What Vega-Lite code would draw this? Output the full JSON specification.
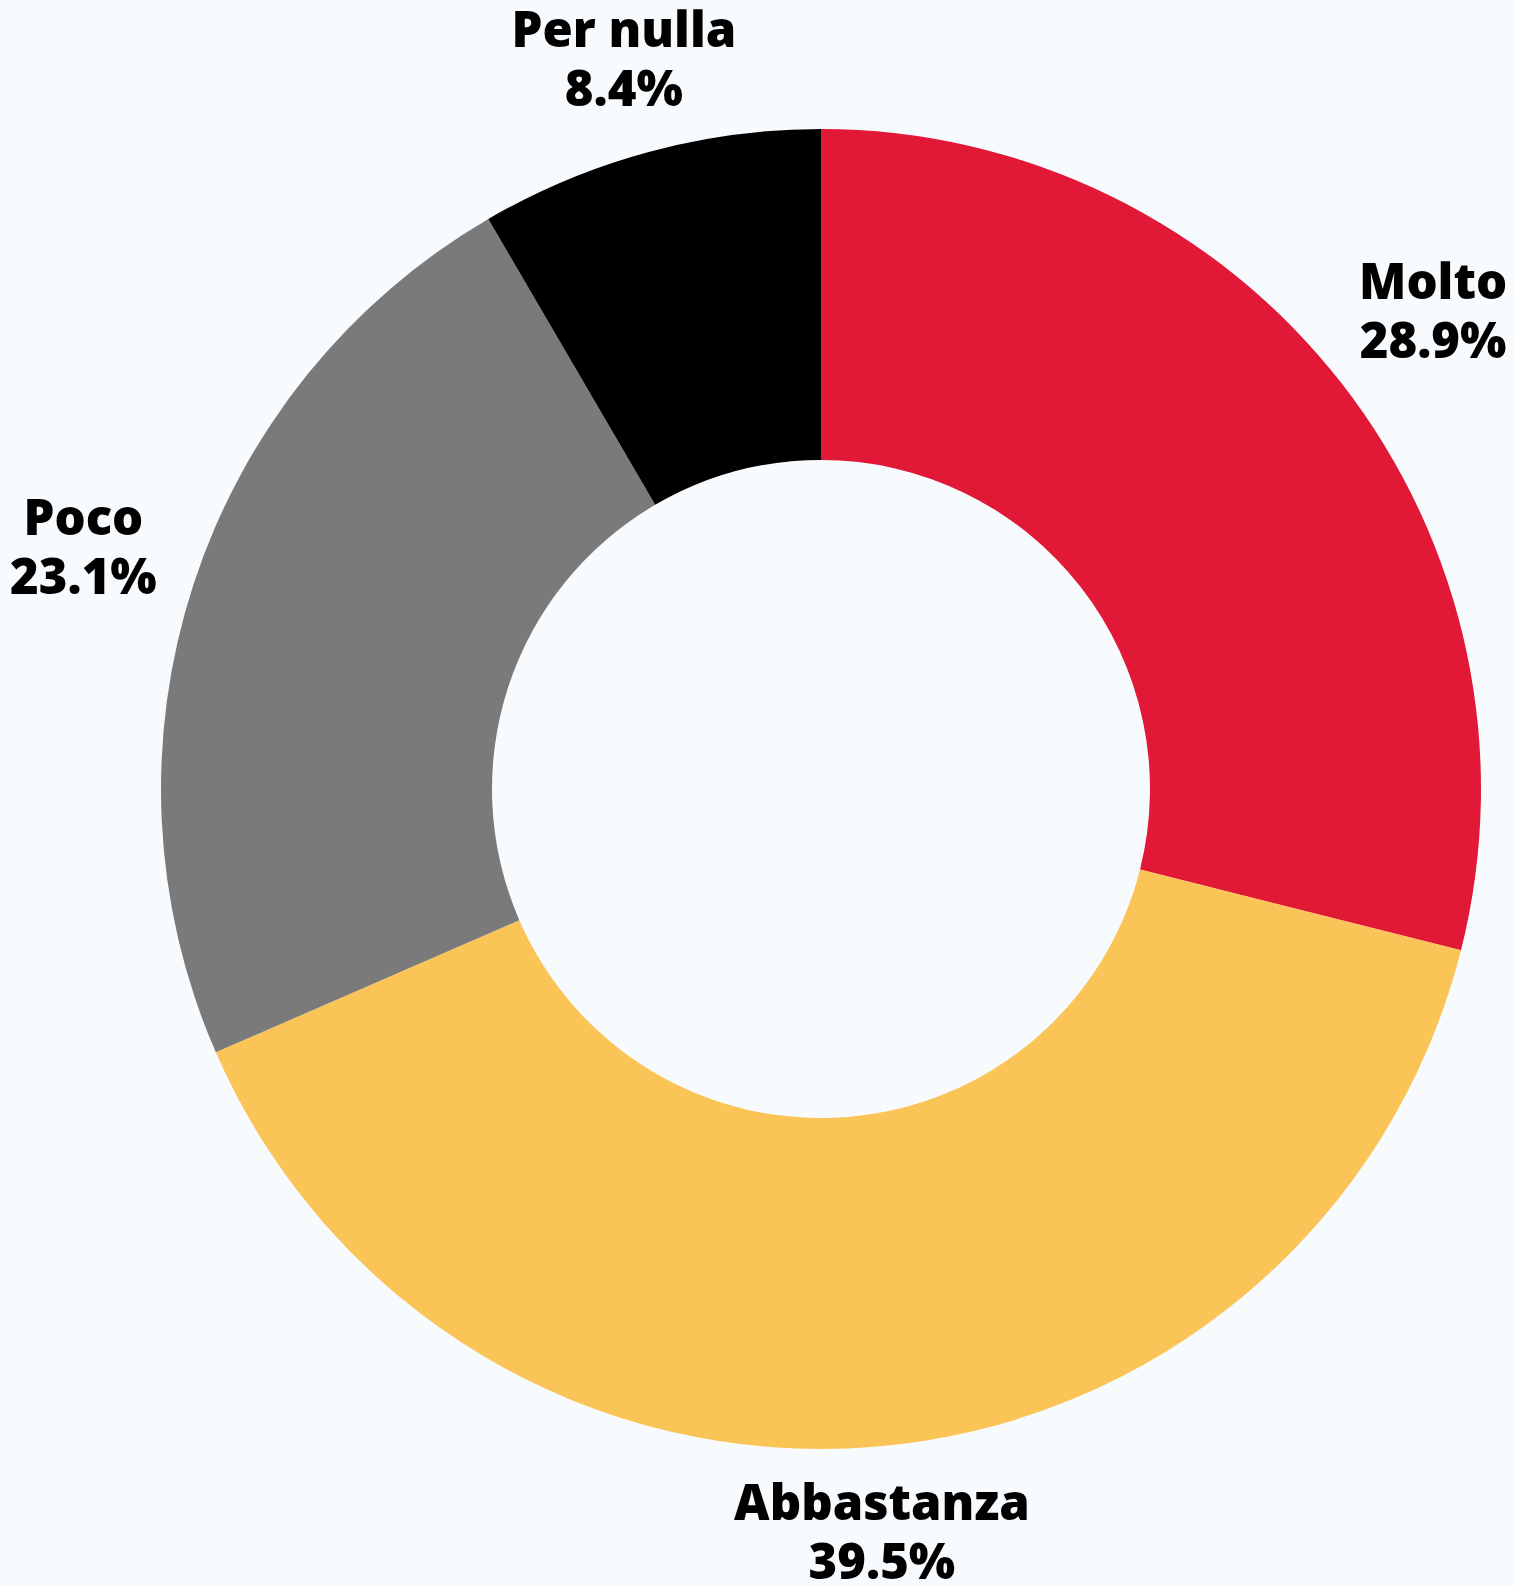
{
  "$schema": "https://vega.github.io/schema/vega-lite/v6.json",
  "width": 1386,
  "height": 1578,
  "autosize": {"type": "none"},
  "padding": {"left": 128, "top": 0, "right": 0, "bottom": 8},
  "background": "#F7FBFE",
  "config": {"view": {"stroke": null}},
  "data": {
    "values": [
      {"cat": "Molto", "value": 28.9, "ordine": 1},
      {"cat": "Abbastanza", "value": 39.5, "ordine": 2},
      {"cat": "Poco", "value": 23.1, "ordine": 3},
      {"cat": "Per nulla", "value": 8.4, "ordine": 4}
    ]
  },
  "transform": [
    {"calculate": "format(datum.value, '.1f') + '%'", "as": "pct"}
  ],
  "encoding": {
    "theta": {"field": "value", "type": "quantitative", "stack": true},
    "order": {"field": "ordine", "type": "quantitative", "sort": "ascending"}
  },
  "layer": [
    {
      "mark": {"type": "arc", "innerRadius": 329, "outerRadius": 660},
      "encoding": {
        "color": {
          "field": "cat",
          "type": "nominal",
          "scale": {
            "domain": ["Molto", "Abbastanza", "Poco", "Per nulla"],
            "range": ["#E11836", "#FBC457", "#7A7A7A", "#000000"]
          },
          "legend": null
        }
      }
    },
    {
      "mark": {"type": "text", "radius": {"expr": "datum.cat === 'Per nulla' ? 755 : (datum.cat === 'Abbastanza' ? 746 : 776)"}, "dy": -28, "font": "Open Sans", "fontWeight": 900, "fontSize": 49, "color": "#000000", "align": "center", "baseline": "middle"},
      "encoding": {"text": {"field": "cat", "type": "nominal"}}
    },
    {
      "mark": {"type": "text", "radius": {"expr": "datum.cat === 'Per nulla' ? 755 : (datum.cat === 'Abbastanza' ? 746 : 776)"}, "dy": 31, "font": "Open Sans", "fontWeight": 900, "fontSize": 49, "color": "#000000", "align": "center", "baseline": "middle"},
      "encoding": {"text": {"field": "pct", "type": "nominal"}}
    }
  ]
}
